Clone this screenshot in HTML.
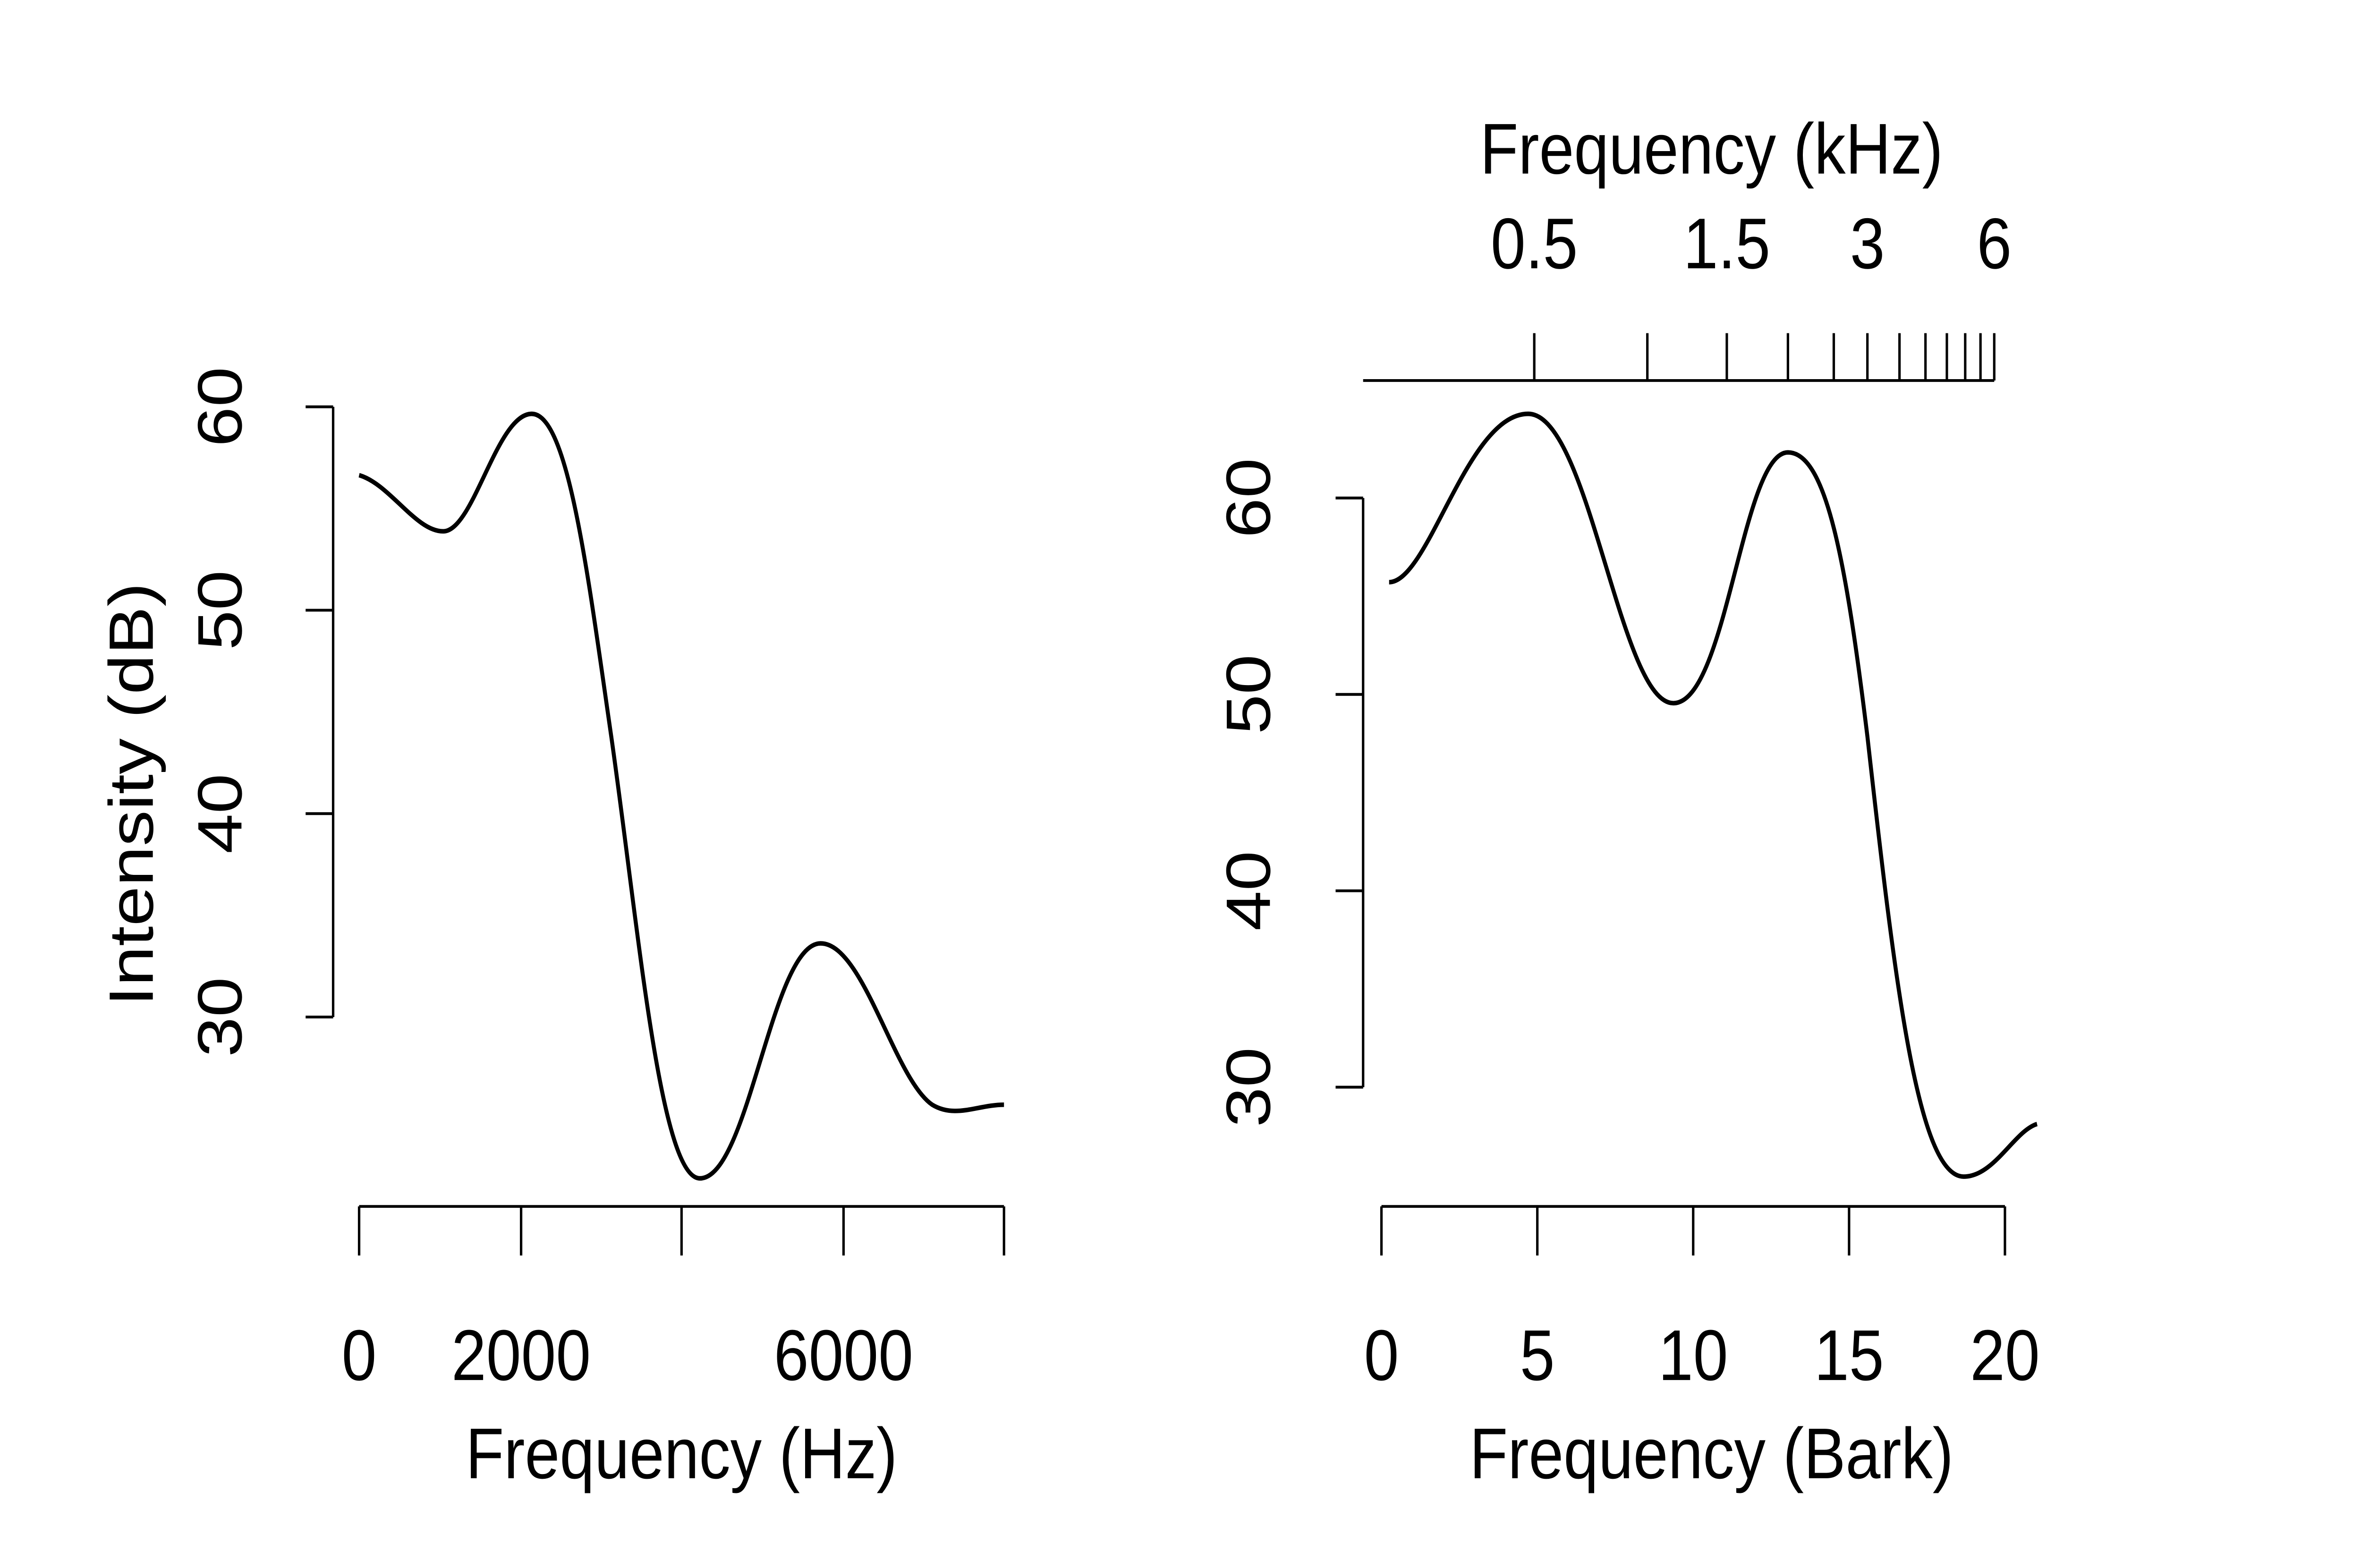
<!DOCTYPE html>
<html><head><style>html,body{margin:0;padding:0;background:#fff;overflow:hidden;width:100%;height:100%;}svg{position:fixed;left:0;top:0;width:100vw;height:100vh;display:block}</style></head>
<body>
<svg viewBox="0 0 1545 894.2" preserveAspectRatio="none" xmlns="http://www.w3.org/2000/svg" font-family="Liberation Sans, sans-serif" font-size="41" fill="#000">
<rect width="1545" height="894.2" fill="#fff"/>
<g stroke="#000" stroke-width="1.6" fill="none">
<path d="M218,232V580 M200,232H218 M200,348H218 M200,464H218 M200,580H218"/>
<path d="M235,688H657 M235,688V716 M341,688V716 M446,688V716 M552,688V716 M657,688V716"/>
<path d="M892,284V620 M874,284H892 M874,396H892 M874,508H892 M874,620H892"/>
<path d="M904,688H1312 M904,688V716 M1006,688V716 M1108,688V716 M1210,688V716 M1312,688V716"/>
<path d="M892,217H1305 M1004,217V190 M1078,217V190 M1130,217V190 M1170,217V190 M1200,217V190 M1222,217V190 M1243,217V190 M1260,217V190 M1274,217V190 M1286,217V190 M1296,217V190 M1305,217V190"/>
</g>
<g stroke="#000" stroke-width="2.6" fill="none" stroke-linejoin="round">
<path d="M235,271 C255,276 272,303 290,303 C310,303 325,236 348,236 C372,236 385,330 400,420 C418,530 432,672 458,672 C490,672 505,538 537,538 C565,538 585,615 610,630 C625,638 640,630 657,630"/>
<path d="M909,332 C935,332 960,236 1000,236 C1040,236 1060,401 1095,401 C1130,401 1140,258 1170,258 C1195,258 1208,320 1222,420 C1240,560 1255,671 1285,671 C1305,671 1318,645 1333,641"/>
</g>
<g text-anchor="middle">
<text x="235" y="787">0</text>
<text x="341" y="787">2000</text>
<text x="552" y="787">6000</text>
<text x="446" y="843">Frequency (Hz)</text>
<text x="904" y="787">0</text>
<text x="1006" y="787">5</text>
<text x="1108" y="787">10</text>
<text x="1210" y="787">15</text>
<text x="1312" y="787">20</text>
<text x="1120" y="843">Frequency (Bark)</text>
<text x="1004" y="153">0.5</text>
<text x="1130" y="153">1.5</text>
<text x="1222" y="153">3</text>
<text x="1305" y="153">6</text>
<text x="1120" y="99">Frequency (kHz)</text>
<text transform="translate(158,232) rotate(-90)">60</text>
<text transform="translate(158,348) rotate(-90)">50</text>
<text transform="translate(158,464) rotate(-90)">40</text>
<text transform="translate(158,580) rotate(-90)">30</text>
<text transform="translate(100,453) rotate(-90)">Intensity (dB)</text>
<text transform="translate(831,284) rotate(-90)">60</text>
<text transform="translate(831,396) rotate(-90)">50</text>
<text transform="translate(831,508) rotate(-90)">40</text>
<text transform="translate(831,620) rotate(-90)">30</text>
</g>
</svg>
</body></html>
